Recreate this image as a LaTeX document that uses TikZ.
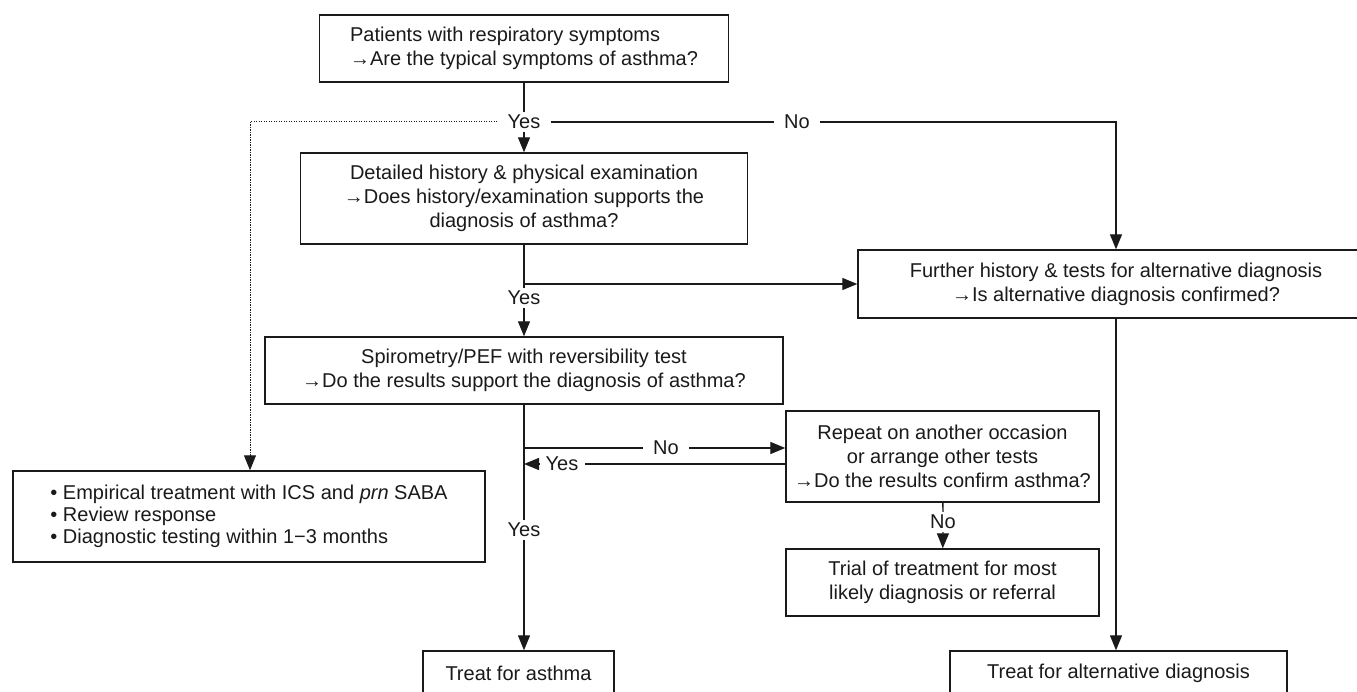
\documentclass[tikz,border=0pt]{standalone}
\usepackage{fontspec}
\setmainfont{Liberation Sans}
\usetikzlibrary{arrows.meta}
\definecolor{ink}{HTML}{1A1A1A}
\begin{document}
\begin{tikzpicture}[x=1pt,y=-1pt,
  font=\fontsize{20}{24}\selectfont,
  box/.style={draw=ink, line width=1.4pt, text=ink, align=center, inner sep=0pt},
  lbl/.style={text=ink, inner xsep=10pt, inner ysep=3pt},
  con/.style={draw=ink, line width=1.3pt},
  tip/.style={-{Triangle[length=15pt,width=12pt]}},
  arr/.style={con, tip},
  dots/.style={draw=ink, line width=1pt, dash pattern=on 1.3pt off 1.2pt}]
\useasboundingbox (0,0) rectangle (1357,692);
\fill[white] (0,0) rectangle (1357,692);
\clip (0,0) rectangle (1357,692);

% boxes
\node[box, minimum width=409pt, minimum height=67pt, align=left] (top) at (524,48.5)
  {Patients with respiratory symptoms\\→Are the typical symptoms of asthma?};
\node[box, minimum width=447pt, minimum height=91pt] (det) at (524,198.5)
  {Detailed history \& physical examination\\→Does history/examination supports the\\diagnosis of asthma?};
\node[box, minimum width=516pt, minimum height=68pt] (fur) at (1116,284)
  {Further history \& tests for alternative diagnosis\\→Is alternative diagnosis confirmed?};
\node[box, minimum width=518pt, minimum height=67pt] (spi) at (524,370.5)
  {Spirometry/PEF with reversibility test\\→Do the results support the diagnosis of asthma?};
\node[box, minimum width=313pt, minimum height=91pt] (rep) at (942.5,456.5)
  {Repeat on another occasion\\or arrange other tests\\→Do the results confirm asthma?};
\node[box, minimum width=313pt, minimum height=67pt] (tri) at (942.5,582.5)
  {Trial of treatment for most\\likely diagnosis or referral};
\node[box, minimum width=472pt, minimum height=91pt, align=left, font=\fontsize{20}{22}\selectfont] (emp) at (249,516.5)
  {• Empirical treatment with ICS and \textit{prn} SABA\\• Review response\\• Diagnostic testing within 1−3 months};
\node[box, minimum width=191pt, minimum height=44pt] (ta) at (518.5,673) {Treat for asthma};
\node[box, minimum width=337pt, minimum height=44pt] (tb) at (1118.5,673) {Treat for alternative diagnosis};

% labels
\node[lbl] (y1) at (524,122) {Yes};
\node[lbl] (n1) at (797,122) {No};
\node[lbl] (y2) at (524,298) {Yes};
\node[lbl] (n2) at (666,448) {No};
\node[lbl, inner xsep=6pt] (y4) at (562,464) {Yes};
\node[lbl] (y3) at (524,530) {Yes};
\node[lbl] (n3) at (943,522) {No};

% coordinates
\coordinate (c1) at (250,122);
\coordinate (j1) at (524,284);
\coordinate (j2) at (524,448);
\coordinate (j3) at (524,464);

% connectors
\draw[con] (top) -- (y1);
\draw[arr] (y1) -- (det);
\draw[dots] (y1) -- (c1);
\draw[dots, tip] (c1) -- (c1 |- emp.north);
\draw[con] (y1) -- (n1);
\draw[arr] (n1) -- (n1 -| fur) -- (fur);
\draw[con] (det) -- (j1) -- (y2);
\draw[arr] (j1) -- (fur);
\draw[arr] (y2) -- (spi);
\draw[con] (spi) -- (y3);
\draw[arr] (y3) -- (y3 |- ta.north);
\draw[con] (j2) -- (n2);
\draw[arr] (n2) -- (n2 -| rep.west);
\draw[con] (rep.west |- y4) -- (y4);
\draw[arr] (y4) -- (j3);
\draw[con] (rep) -- (n3);
\draw[arr] (n3) -- (tri);
\draw[arr] (fur) -- (fur |- tb.north);
\end{tikzpicture}
\end{document}
